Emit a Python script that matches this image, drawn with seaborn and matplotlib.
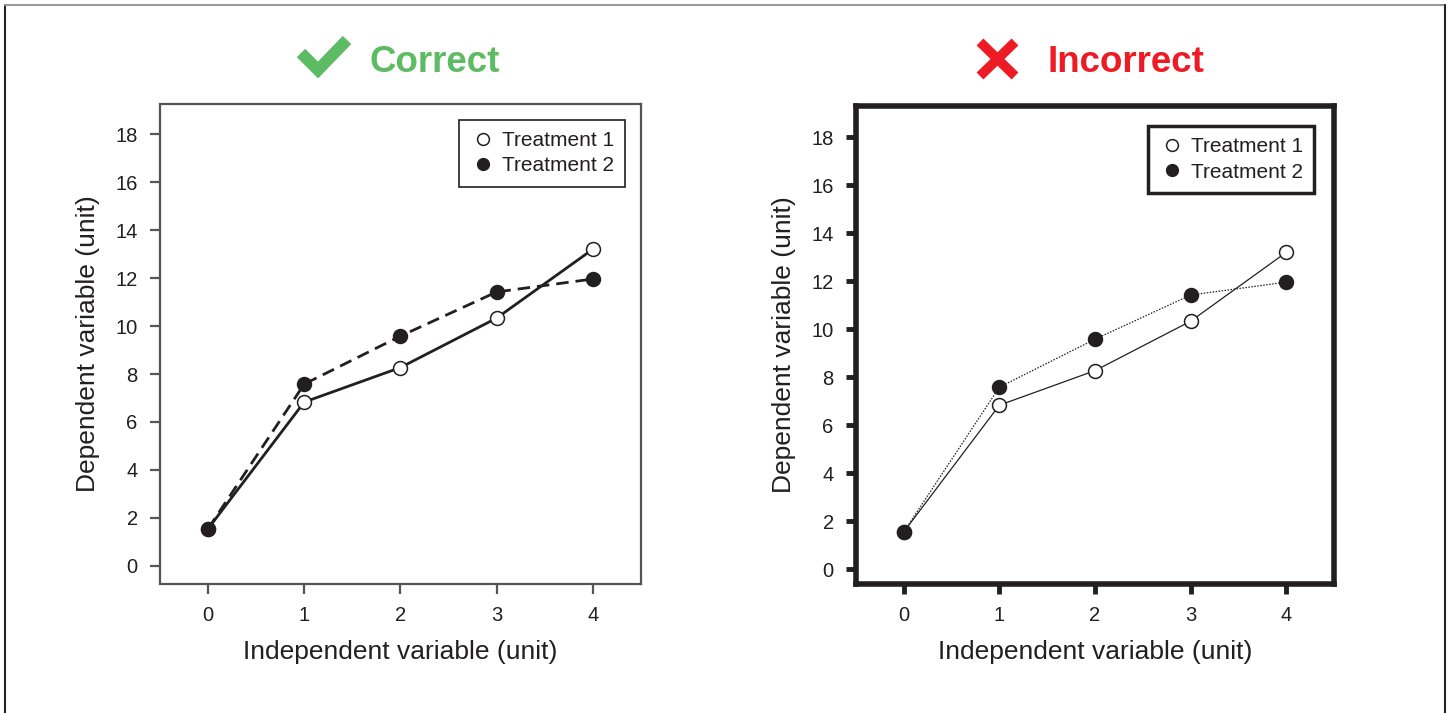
import matplotlib
matplotlib.use("Agg")
import matplotlib.pyplot as plt
from matplotlib.lines import Line2D
import seaborn as sns
import pandas as pd

# ---- data ----
x_vals = [0, 1, 2, 3, 4]
treatment1 = [1.55, 6.83, 8.27, 10.33, 13.2]
treatment2 = [1.55, 7.58, 9.58, 11.42, 11.96]
series_names = ["Treatment 1", "Treatment 2"]
y_ticks = [0, 2, 4, 6, 8, 10, 12, 14, 16, 18]
x_ticks = [0, 1, 2, 3, 4]
panel_titles = ["Correct", "Incorrect"]
x_label = "Independent variable (unit)"
y_label = "Dependent variable (unit)"

df1 = pd.DataFrame({"x": x_vals, "y": treatment1})
df2 = pd.DataFrame({"x": x_vals, "y": treatment2})

sns.set_theme(style="white")
plt.rcParams["font.family"] = ["Liberation Sans", "DejaVu Sans"]
ink = "#231f20"

W, H = 1450, 713
fig = plt.figure(figsize=(W / 100, H / 100), dpi=100)


def px(x, y):
    return x / W, 1 - y / H


# figure frame
for (xs, ys, c) in [([0.0035, 0.0035], [0.0, 0.993], "#222222"),
                    ([0.0035, 0.9965], [0.993, 0.993], "#999999"),
                    ([0.9965, 0.9965], [0.0, 0.993], "#222222")]:
    fig.add_artist(Line2D(xs, ys, transform=fig.transFigure, color=c, lw=1.5))

axL = fig.add_axes([0.1103, 0.181, 0.3317, 0.673])
axR = fig.add_axes([0.5903, 0.181, 0.3297, 0.6703])

configs = [
    dict(ax=axL, lw=2.0, ls1="-", ls2=(0, (4.5, 2.5)), spine_c="#555555", spine_w=1.6,
         tick_w=1.6, leg_w=1.2, ylim=(-0.75, 19.25), bap=0.75),
    dict(ax=axR, lw=0.9, ls1="-", ls2=(0, (1.2, 1.2)), spine_c="#231f20", spine_w=4.0,
         tick_w=3.5, leg_w=2.5, ylim=(-0.62, 19.3), bap=0.95),
]

for cfg in configs:
    ax = cfg["ax"]
    sns.lineplot(data=df1, x="x", y="y", ax=ax, color=ink, lw=cfg["lw"], linestyle=cfg["ls1"],
                 marker="o", markersize=10, markerfacecolor="white", markeredgecolor=ink,
                 markeredgewidth=1.1, zorder=3)
    sns.lineplot(data=df2, x="x", y="y", ax=ax, color=ink, lw=cfg["lw"], linestyle=cfg["ls2"],
                 marker="o", markersize=10, markerfacecolor=ink, markeredgecolor=ink,
                 markeredgewidth=1.1, zorder=4)
    ax.set_xlim(-0.5, 4.5)
    ax.set_ylim(*cfg["ylim"])
    ax.set_xticks(x_ticks)
    ax.set_yticks(y_ticks)
    ax.set_xticklabels([str(v) for v in x_ticks], fontsize=14.5, color=ink)
    ax.set_yticklabels([str(v) for v in y_ticks], fontsize=14.5, color=ink)
    ax.tick_params(axis="both", direction="out", length=7, width=cfg["tick_w"],
                   color=cfg["spine_c"], pad=9, left=True, bottom=True)
    ax.set_xlabel(x_label, fontsize=19, color=ink, labelpad=11)
    ax.set_ylabel(y_label, fontsize=19, color=ink, labelpad=11)
    for sp in ax.spines.values():
        sp.set_visible(True)
        sp.set_color(cfg["spine_c"])
        sp.set_linewidth(cfg["spine_w"])
    handles = [
        Line2D([], [], ls="none", marker="o", markersize=8.5, markerfacecolor="white",
               markeredgecolor=ink, markeredgewidth=1.1),
        Line2D([], [], ls="none", marker="o", markersize=8.5, markerfacecolor=ink,
               markeredgecolor=ink),
    ]
    leg = ax.legend(handles, series_names, loc="upper right", fontsize=15, frameon=True,
                    fancybox=False, edgecolor=ink, framealpha=1, borderpad=0.55,
                    handletextpad=0.3, handlelength=1.2, labelspacing=0.3,
                    borderaxespad=cfg["bap"])
    leg.get_frame().set_linewidth(cfg["leg_w"])
    for t in leg.get_texts():
        t.set_color(ink)

# panel titles with symbols
green = "#5dbb63"
red = "#ed1c24"
tx, ty = px(434.5, 62)
fig.text(tx, ty, panel_titles[0], fontsize=26.5, fontweight="bold", color=green,
         ha="center", va="center")
tx, ty = px(1125.5, 62)
fig.text(tx, ty, panel_titles[1], fontsize=26.5, fontweight="bold", color=red,
         ha="center", va="center")

# check mark
pts = [px(301, 53), px(318, 70), px(347, 40)]
fig.add_artist(Line2D([p[0] for p in pts], [p[1] for p in pts], transform=fig.transFigure,
                      color=green, lw=8.5, solid_joinstyle="miter", solid_capstyle="butt"))
# cross
for a, b in [(px(980, 42), px(1015, 76)), (px(1015, 42), px(980, 76))]:
    fig.add_artist(Line2D([a[0], b[0]], [a[1], b[1]], transform=fig.transFigure,
                          color=red, lw=7, solid_capstyle="butt"))

fig.savefig("out.png", dpi=100, facecolor="white")
